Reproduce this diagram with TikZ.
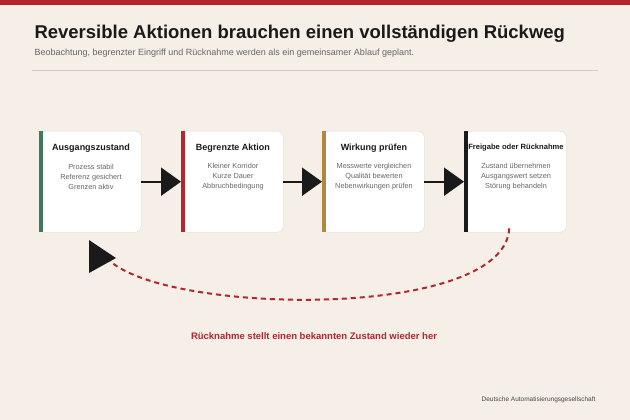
\documentclass[tikz,border=0pt]{standalone}
\usepackage{fontspec}
\setmainfont{Liberation Sans}
\usetikzlibrary{arrows.meta}
\definecolor{bg}{HTML}{F5EFE8}
\definecolor{cgreen}{HTML}{3E7A5E}
\definecolor{cred}{HTML}{B3262E}
\definecolor{cgold}{HTML}{B08A3A}
\definecolor{cblack}{HTML}{1A1A1A}
\definecolor{txtgray}{HTML}{666666}
\begin{document}
\begin{tikzpicture}[x=1pt,y=-1pt,
  box/.style={draw=black!15,fill=white,rounded corners=6pt,minimum width=102pt,minimum height=101pt,anchor=north west,inner sep=0pt},
  ttl/.style={font=\bfseries\fontsize{9}{11}\selectfont,text=cblack},
  body/.style={font=\fontsize{7.3}{10}\selectfont,text=txtgray,align=center},
  flow/.style={line width=2pt,cblack,-{Triangle[length=20pt,width=28pt]}}]
\fill[bg] (0,0) rectangle (630,420);
\useasboundingbox (0,0) rectangle (630,420);
\fill[cred] (0,0) rectangle (630,5);
\node[anchor=west,font=\bfseries\fontsize{18.5}{22}\selectfont,text=cblack] (title) at (31,34) {Reversible Aktionen brauchen einen vollständigen Rückweg};
\node[anchor=west,font=\fontsize{9}{11}\selectfont,text=txtgray] (sub) at (31,53) {Beobachtung, begrenzter Eingriff und Rücknahme werden als ein gemeinsamer Ablauf geplant.};
\draw[black!20,line width=0.8pt] (32,70) -- (598,70);
\foreach \n/\x/\c/\t/\a/\b/\d in {
 b1/39/cgreen/Ausgangszustand/Prozess stabil/Referenz gesichert/Grenzen aktiv,
 b2/181/cred/Begrenzte Aktion/Kleiner Korridor/Kurze Dauer/Abbruchbedingung,
 b3/322/cgold/Wirkung prüfen/Messwerte vergleichen/Qualität bewerten/Nebenwirkungen prüfen,
 b4/464/cblack/{\fontsize{7.6}{9}\selectfont Freigabe oder Rücknahme}/Zustand übernehmen/Ausgangswert setzen/Störung behandeln}{
  \node[box] (\n) at (\x,131) {};
  \fill[\c] (\x,131) rectangle (\x+3.5,232);
  \node[ttl] (\n t) at (\x+52,148) {\t};
  \node[body] (\n b) at (\x+52,177) {\a\\\b\\\d};
}
\draw[flow] (b1.east) -- (b2.west);
\draw[flow] (b2.east) -- (b3.west);
\draw[flow] (b3.east) -- (b4.west);
\coordinate (ret) at (110,261);
\draw[cred,line width=2pt,dash pattern=on 5pt off 4pt] ([xshift=-6pt,yshift=4pt]b4.south) .. controls (505,320) and (170,315) .. (ret);
\fill[cblack] (89,240) -- (116,258) -- (89,273) -- cycle;
\node[font=\bfseries\fontsize{9.5}{11}\selectfont,text=cred] (note) at (314,336) {Rücknahme stellt einen bekannten Zustand wieder her};
\node[anchor=east,font=\fontsize{6.5}{8}\selectfont,text=cblack!80] (foot) at (599,400) {Deutsche Automatisierungsgesellschaft};
\end{tikzpicture}
\end{document}
